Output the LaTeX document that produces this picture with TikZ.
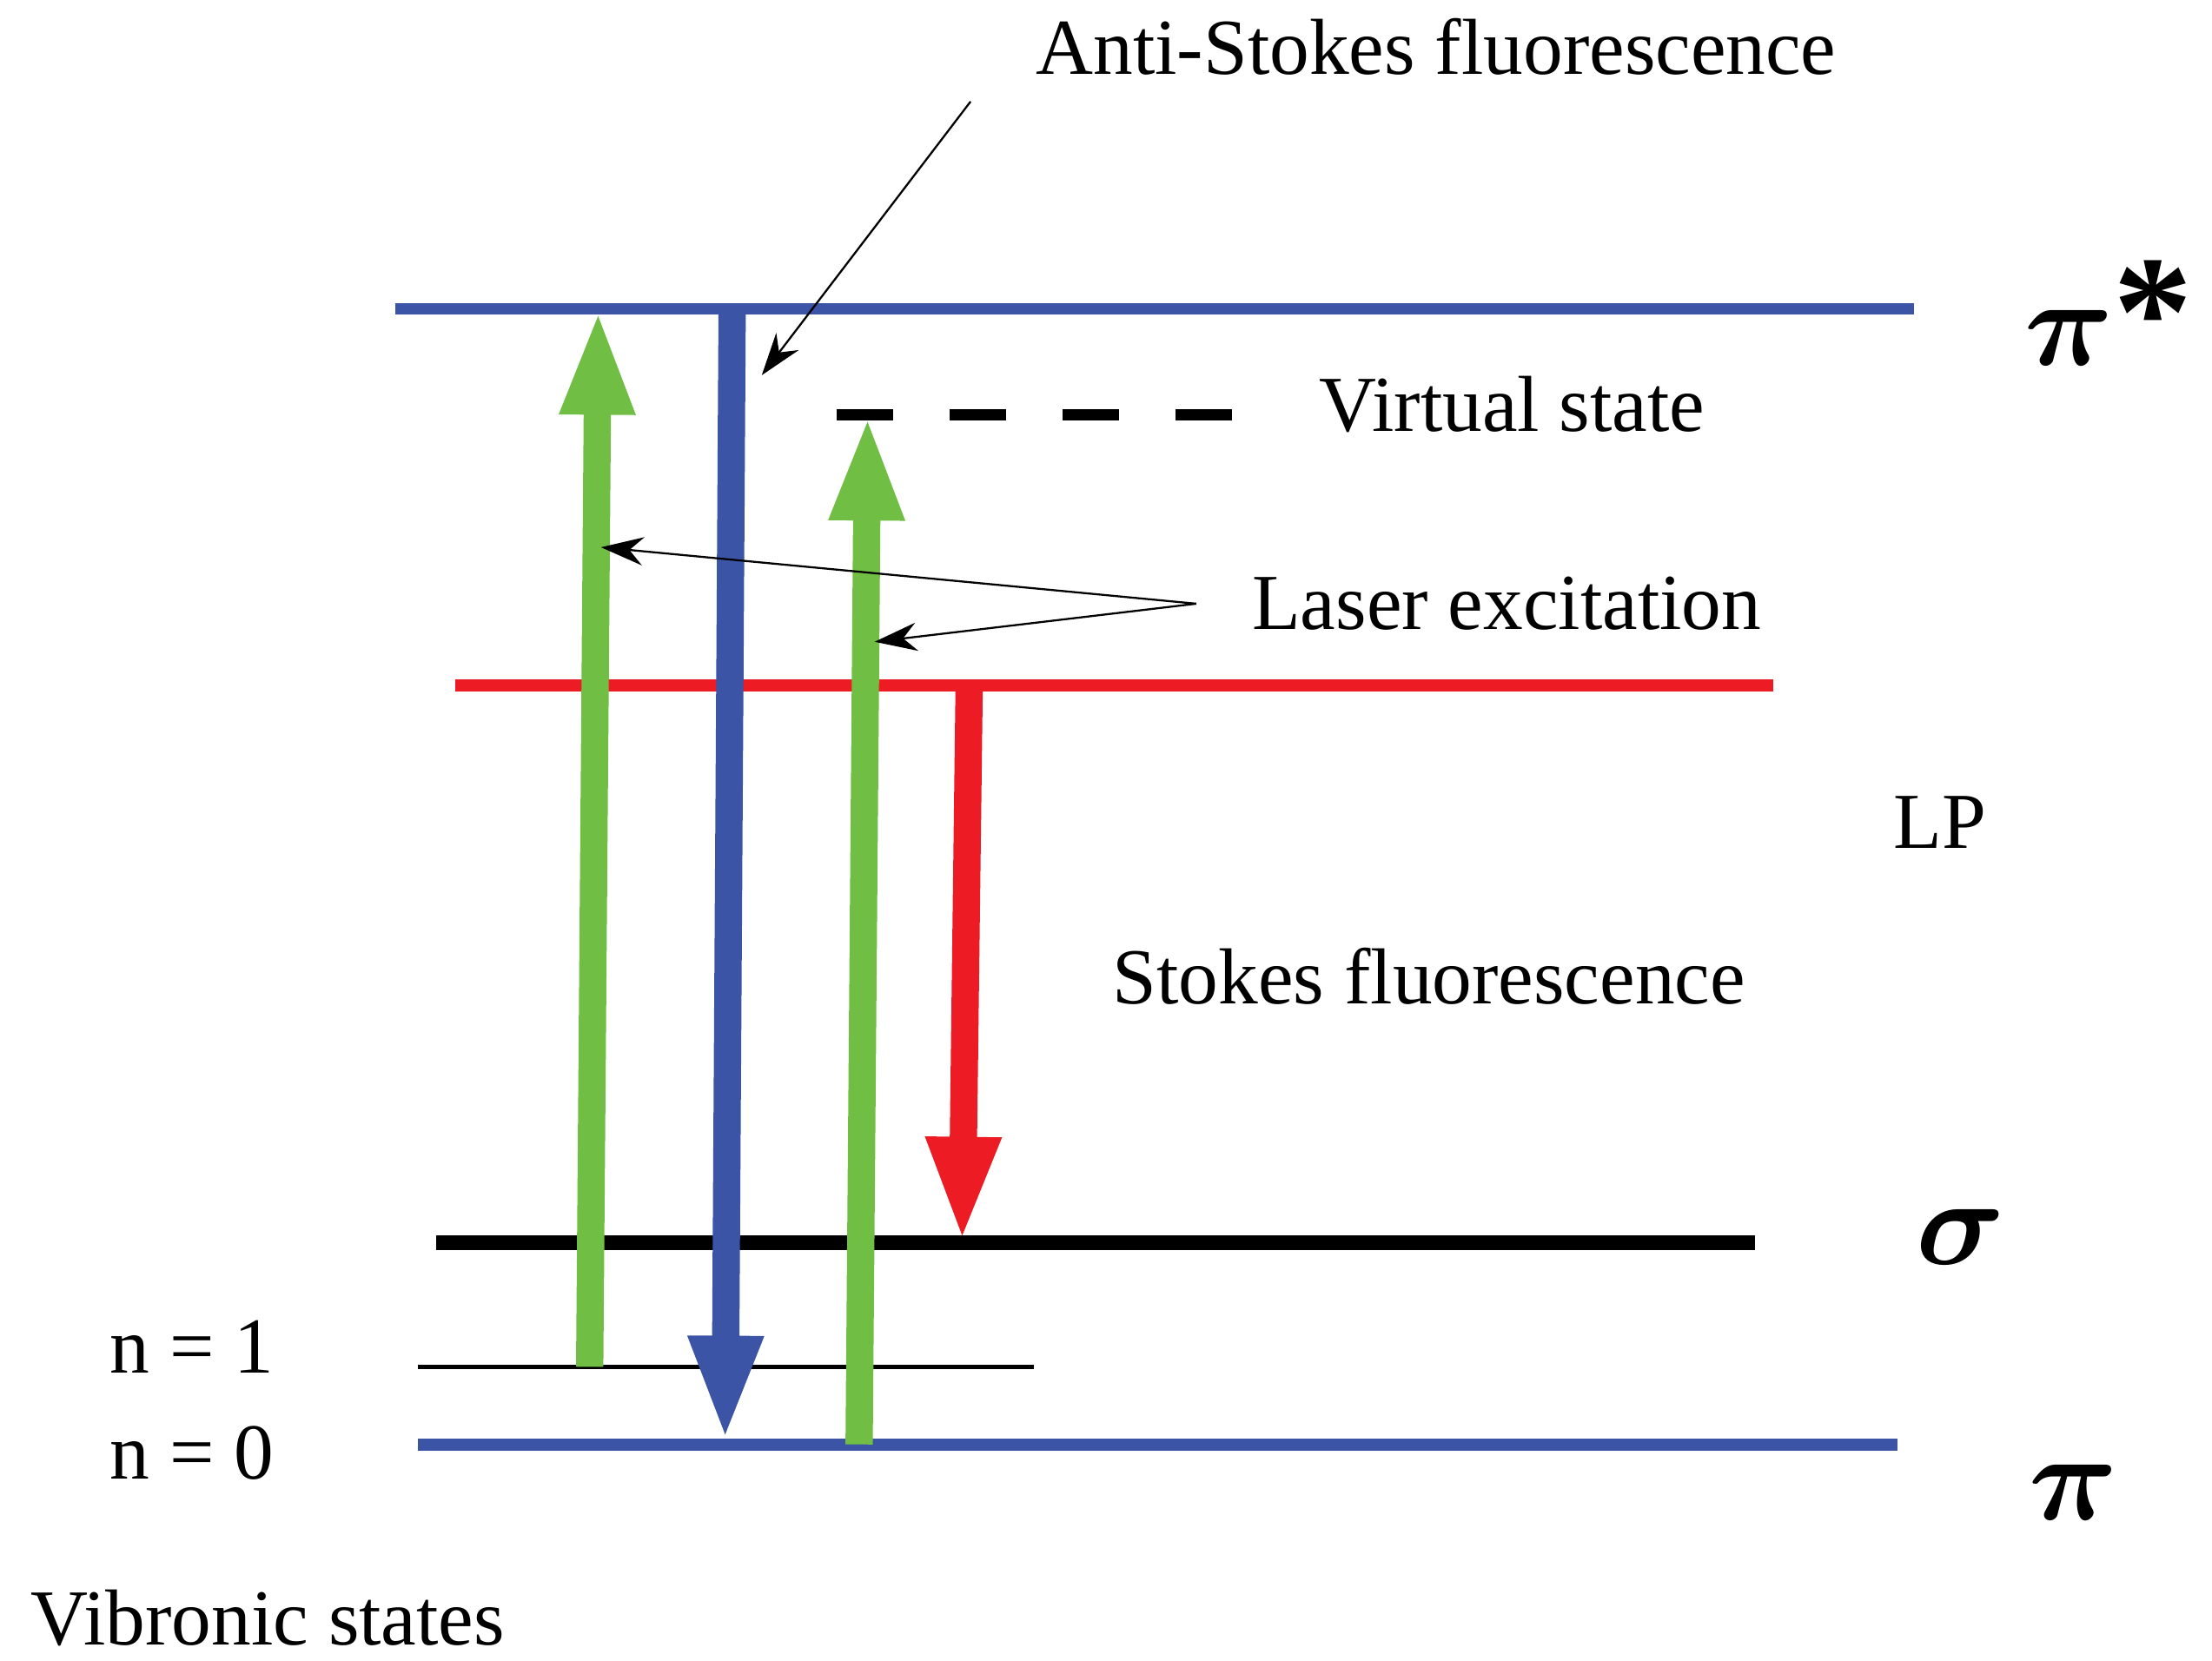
\documentclass[tikz,border=0pt]{standalone}
\usepackage{amsmath,amssymb,bm}
\usepackage{fontspec}
\setmainfont{Liberation Serif}
\usetikzlibrary{arrows.meta}
\definecolor{pblue}{RGB}{59,84,166}
\definecolor{lgreen}{RGB}{112,190,68}
\definecolor{lred}{RGB}{237,28,36}
\begin{document}
\begin{tikzpicture}[x=0.01cm,y=-0.01cm,
  level/.style={line width=2.4pt},
  big arrow/.style={line width=5.5pt,-{Triangle[width=0.48cm,length=0.75cm]}},
  pointer/.style={thin,-{Stealth[length=0.3cm,width=0.2cm]}},
  label/.style={font=\fontsize{16}{18}\selectfont},
  sym/.style={font=\fontsize{32}{34}\selectfont\bfseries}]
  \useasboundingbox (0,0) rectangle (1568,1177);

  % levels
  \coordinate (pistarL) at (280,219); \coordinate (pistarR) at (1357,219);
  \coordinate (piL) at (296,1024); \coordinate (piR) at (1345,1024);
  \coordinate (lpL) at (323,486); \coordinate (lpR) at (1257,486);
  \coordinate (sigL) at (309,881); \coordinate (sigR) at (1244,881);
  \coordinate (nL) at (296,969); \coordinate (nR) at (733,969);
  \coordinate (vsL) at (593,294); \coordinate (vsR) at (877,294);
  \draw[level,pblue] (pistarL) -- (pistarR);
  \draw[level,pblue] (piL) -- (piR);
  \draw[level,lred] (lpL) -- (lpR);
  \draw[line width=3pt] (sigL) -- (sigR);
  \draw[thick] (nL) -- (nR);
  \draw[line width=2.2pt,dash pattern=on 0.4cm off 0.4cm] (vsL) -- (vsR);

  % transitions
  \coordinate (g1a) at (418,969); \coordinate (g1b) at (424,219);
  \coordinate (ba) at (519,219); \coordinate (bb) at (514,1022);
  \coordinate (g2a) at (609,1024); \coordinate (g2b) at (615,294);
  \coordinate (ra) at (687,486); \coordinate (rb) at (682,881);
  \draw[big arrow,lgreen] (g1a) -- (g1b);
  \draw[big arrow,pblue] (ba) -- (bb);
  \draw[big arrow,lgreen] (g2a) -- (g2b);
  \draw[big arrow,lred] (ra) -- (rb);

  % labels
  \node[label] (anti) at (1018,33) {Anti-Stokes fluorescence};
  \node[label] (virt) at (1072,287) {Virtual state};
  \node[label] (laser) at (1068,428) {Laser excitation};
  \node[label] (lp) at (1375,583) {LP};
  \node[label] (stokes) at (1013,692) {Stokes fluorescence};
  \node[label] (n1) at (136,955) {n = 1};
  \node[label] (n0) at (136,1030) {n = 0};
  \node[label] (vib) at (190,1147) {Vibronic states};
  \node[sym] (pistar) at (1495,222) {$\bm{\pi}$*};
  \node[sym] (sigma) at (1390,877) {$\bm{\sigma}$};
  \node[sym] (pi) at (1470,1058) {$\bm{\pi}$};

  % pointers
  \coordinate (antitip) at (540,266);
  \coordinate (lasfork) at (848,428);
  \coordinate (las1) at (426,388); \coordinate (las2) at (620,455);
  \draw[pointer] (688,72) -- (antitip);
  \draw[pointer] (lasfork) -- (las1);
  \draw[pointer] (lasfork) -- (las2);
\end{tikzpicture}
\end{document}
